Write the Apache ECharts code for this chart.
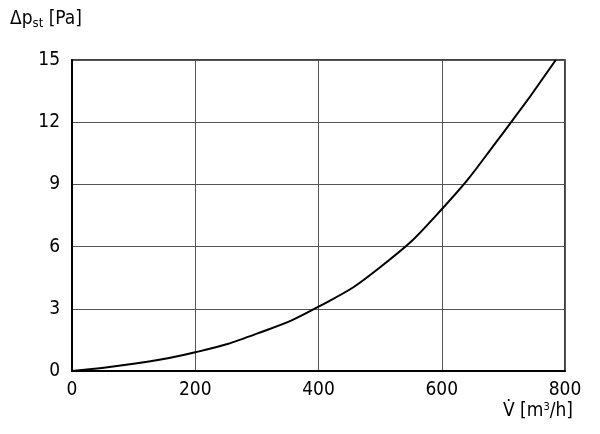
<!DOCTYPE html><html><head><meta charset="utf-8">
<script src="https://cdn.jsdelivr.net/npm/echarts@6/dist/echarts.min.js"></script>
<style>body{margin:0}#c{width:600px;height:434px}</style></head><body><div id="c"></div>
<script>
const flow=[0,100,200,300,400,500,600,700,785];
const pressure=[0,0.35,0.9,1.8,3.1,5.0,7.8,11.5,15];
const xTicks=[0,200,400,600,800];
const yTicks=[0,3,6,9,12,15];
const F='"DejaVu Sans Condensed","DejaVu Sans",sans-serif';
const chart=echarts.init(document.getElementById('c'));
chart.setOption({
 animation:false,
 grid:{left:72,right:35,top:60,bottom:63,show:true,borderColor:'#000',borderWidth:1.5},
 xAxis:{type:'value',min:0,max:800,interval:200,
  axisLine:{lineStyle:{color:'#000',width:2}},axisTick:{show:false},
  axisLabel:{color:'#000',fontSize:19,fontFamily:F,margin:10},
  splitLine:{lineStyle:{color:'#555',width:1}}},
 yAxis:{type:'value',min:0,max:15,interval:3,
  axisLine:{show:true,lineStyle:{color:'#000',width:2}},axisTick:{show:false},
  axisLabel:{color:'#000',fontSize:19,fontFamily:F,margin:12},
  splitLine:{lineStyle:{color:'#555',width:1}}},
 series:[{type:'line',data:flow.map((x,i)=>[x,pressure[i]]),smooth:0.5,showSymbol:false,
  lineStyle:{color:'#000',width:2},clip:true}],
 graphic:[
  {type:'text',left:10,top:10,style:{text:'Δp{s|st} [Pa]',fontSize:19,fontFamily:F,fill:'#000',
   rich:{s:{fontSize:13,fontFamily:F,padding:[8,0,0,0]}}}},
  {type:'text',left:503,top:402,style:{text:'V̇ [m{u|3}/h]',fontSize:19,fontFamily:F,fill:'#000',
   rich:{u:{fontSize:11,fontFamily:F,padding:[0,0,8,0]}}}}
 ]
});
</script></body></html>
